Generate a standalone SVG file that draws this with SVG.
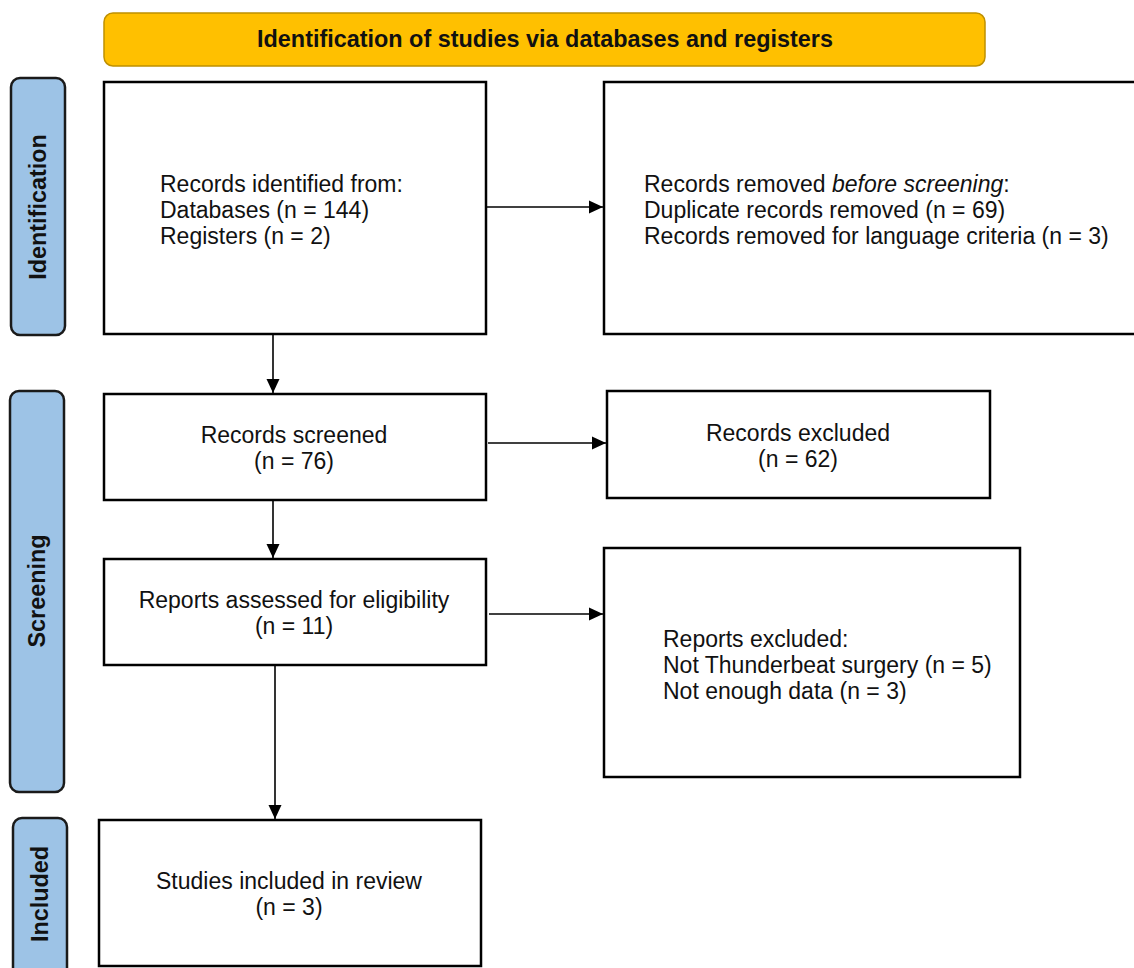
<svg xmlns="http://www.w3.org/2000/svg" width="1134" height="968" viewBox="0 0 1134 968">
<defs>
<marker id="ah" markerUnits="userSpaceOnUse" markerWidth="16" markerHeight="16" viewBox="0 0 16 16" refX="14" refY="8" orient="auto">
<path d="M0,1.5 L14,8 L0,14.5 Z" fill="#000"/>
</marker>
<style>
.box{fill:#fff;stroke:#000;stroke-width:2.5}
.side{fill:#9DC3E6;stroke:#1a1a1a;stroke-width:2.5}
.banner{fill:#FFC000;stroke:#BF9000;stroke-width:1.5}
.t{font-family:"Liberation Sans",Arial,sans-serif;font-size:23px;fill:#111}
.b{font-family:"Liberation Sans",Arial,sans-serif;font-size:23.4px;font-weight:bold;fill:#111}
.c{text-anchor:middle}
.conn{stroke:#000;stroke-width:1.6;fill:none;marker-end:url(#ah)}
</style>
</defs>
<rect width="1134" height="968" fill="#fff"/>

<g id="banner">
<rect class="banner" x="104" y="13" width="881" height="53" rx="9"/>
<text class="b c" x="545" y="47">Identification of studies via databases and registers</text>
</g>

<g id="label-identification">
<rect class="side" x="11" y="78" width="54" height="257" rx="9"/>
<text class="b c" transform="translate(46,207) rotate(-90)">Identification</text>
</g>
<g id="label-screening">
<rect class="side" x="10" y="391" width="54" height="401" rx="9"/>
<text class="b c" transform="translate(45,591) rotate(-90)">Screening</text>
</g>
<g id="label-included">
<rect class="side" x="13" y="818" width="54" height="170" rx="9"/>
<text class="b c" transform="translate(48,894) rotate(-90)">Included</text>
</g>

<g id="records-identified">
<rect class="box" x="104" y="82" width="382" height="252"/>
<text class="t" x="160" y="192">Records identified from:</text>
<text class="t" x="160" y="218">Databases (n = 144)</text>
<text class="t" x="160" y="244">Registers (n = 2)</text>
</g>

<g id="records-removed">
<rect class="box" x="604" y="82" width="545" height="252"/>
<text class="t" x="644" y="192">Records removed <tspan font-style="italic">before screening</tspan>:</text>
<text class="t" x="644" y="218">Duplicate records removed (n = 69)</text>
<text class="t" x="644" y="244">Records removed for language criteria (n = 3)</text>
</g>

<g id="records-screened">
<rect class="box" x="104" y="394" width="382" height="106"/>
<text class="t c" x="294" y="443">Records screened</text>
<text class="t c" x="294" y="469">(n = 76)</text>
</g>

<g id="records-excluded">
<rect class="box" x="607" y="391" width="383" height="107"/>
<text class="t c" x="798" y="441">Records excluded</text>
<text class="t c" x="798" y="467">(n = 62)</text>
</g>

<g id="reports-assessed">
<rect class="box" x="104" y="559" width="382" height="106"/>
<text class="t c" x="294" y="608">Reports assessed for eligibility</text>
<text class="t c" x="294" y="634">(n = 11)</text>
</g>

<g id="reports-excluded">
<rect class="box" x="604" y="548" width="416" height="229"/>
<text class="t" x="663" y="647">Reports excluded:</text>
<text class="t" x="663" y="673">Not Thunderbeat surgery (n = 5)</text>
<text class="t" x="663" y="699">Not enough data (n = 3)</text>
</g>

<g id="studies-included">
<rect class="box" x="99" y="820" width="382" height="146"/>
<text class="t c" x="289" y="889">Studies included in review</text>
<text class="t c" x="289" y="915">(n = 3)</text>
</g>

<g id="connectors">
<line class="conn" x1="487" y1="207" x2="603" y2="207"/>
<line class="conn" x1="273" y1="335" x2="273" y2="393"/>
<line class="conn" x1="488" y1="443" x2="606" y2="443"/>
<line class="conn" x1="273" y1="501" x2="273" y2="558"/>
<line class="conn" x1="489" y1="614" x2="603" y2="614"/>
<line class="conn" x1="275" y1="666" x2="275" y2="819"/>
</g>
</svg>
